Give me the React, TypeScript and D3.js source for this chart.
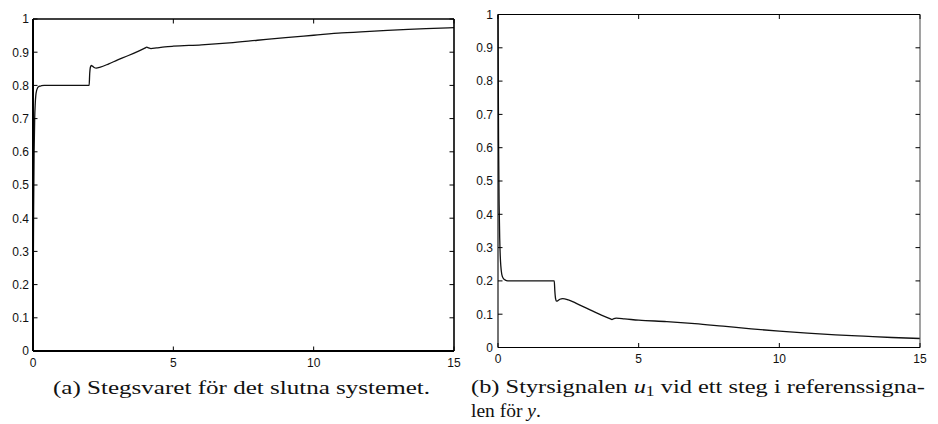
import React from "react";
import * as d3 from "d3";

const tA = [0, 0.01, 0.02, 0.04, 0.06, 0.08, 0.1, 0.13, 0.16, 0.2, 0.25, 0.3, 0.4, 0.6, 1.0, 1.5, 1.99, 2.0, 2.02, 2.05, 2.08, 2.12, 2.18, 2.25, 2.4, 2.7, 3.0, 3.4, 3.8, 4.0, 4.05, 4.12, 4.2, 4.4, 4.7, 5, 6, 7, 8, 9, 10, 11, 12, 13, 14, 15];
const yA = [0, 0.22, 0.4, 0.6, 0.7, 0.745, 0.77, 0.785, 0.792, 0.796, 0.798, 0.799, 0.8, 0.8, 0.8, 0.8, 0.8, 0.8, 0.835, 0.856, 0.86, 0.858, 0.854, 0.852, 0.855, 0.865, 0.876, 0.89, 0.905, 0.913, 0.915, 0.913, 0.911, 0.913, 0.916, 0.918, 0.922, 0.928, 0.936, 0.944, 0.951, 0.958, 0.963, 0.967, 0.971, 0.974];

const tB = [0, 0.01, 0.02, 0.04, 0.06, 0.08, 0.1, 0.13, 0.16, 0.2, 0.25, 0.3, 0.4, 0.6, 1.0, 1.5, 1.99, 2.0, 2.02, 2.05, 2.08, 2.12, 2.2, 2.3, 2.5, 2.8, 3.2, 3.6, 4.0, 4.05, 4.12, 4.2, 4.5, 5, 6, 7, 8, 9, 10, 11, 12, 13, 14, 15];
const uB = [1.0, 0.8, 0.62, 0.43, 0.33, 0.275, 0.245, 0.222, 0.212, 0.206, 0.203, 0.201, 0.2, 0.2, 0.2, 0.2, 0.2, 0.2, 0.17, 0.145, 0.139, 0.14, 0.145, 0.147, 0.143, 0.132, 0.116, 0.1, 0.086, 0.084, 0.087, 0.088, 0.086, 0.082, 0.078, 0.072, 0.064, 0.056, 0.049, 0.043, 0.038, 0.034, 0.03, 0.027];

const xTicks = [0, 5, 10, 15];
const yTicks = [0, 0.1, 0.2, 0.3, 0.4, 0.5, 0.6, 0.7, 0.8, 0.9, 1];

const sans = "Liberation Sans, Arial, Helvetica, sans-serif";
const serif = "Liberation Serif, Times New Roman, serif";

type PanelProps = {
  x0: number; x1: number; y0: number; y1: number;
  ts: number[]; vs: number[]; thick: boolean; labelRight: number;
};

function Panel({ x0, x1, y0, y1, ts, vs, thick, labelRight }: PanelProps) {
  const x = d3.scaleLinear().domain([0, 15]).range([x0, x1]);
  const y = d3.scaleLinear().domain([0, 1]).range([y1, y0]);
  const line = d3.line<number>().x((_, i) => x(ts[i])).y((d) => y(d)).curve(d3.curveMonotoneX);
  const tl = 4.5;
  const fmt = (v: number) => (v === 0 ? "0" : v === 1 ? "1" : d3.format(".1f")(v));
  return (
    <g>
      <path d={line(vs) || ""} fill="none" stroke="#111" strokeWidth={1.3} />
      <line x1={x0} x2={x1} y1={y0} y2={y0} stroke="#000" strokeWidth={thick ? 1.6 : 1.1} />
      <line x1={x1} x2={x1} y1={y0} y2={y1} stroke={thick ? "#000" : "#555"} strokeWidth={thick ? 1.6 : 1.1} />
      <line x1={x0} x2={x1} y1={y1} y2={y1} stroke="#000" strokeWidth={thick ? 2 : 1.1} />
      <line x1={x0} x2={x0} y1={y0} y2={y1} stroke="#000" strokeWidth={thick ? 2 : 1.1} />
      {xTicks.map((t) => (
        <g key={"x" + t}>
          <line x1={x(t)} x2={x(t)} y1={y1} y2={y1 - tl} stroke="#000" strokeWidth={1} />
          <line x1={x(t)} x2={x(t)} y1={y0} y2={y0 + tl} stroke="#000" strokeWidth={1} />
          <text x={x(t)} y={y1 + 15.5} textAnchor="middle" fontFamily={sans} fontSize={12} fill="#111">{t}</text>
        </g>
      ))}
      {yTicks.map((t) => (
        <g key={"y" + t}>
          <line x1={x0} x2={x0 + tl} y1={y(t)} y2={y(t)} stroke="#000" strokeWidth={1} />
          <line x1={x1} x2={x1 - tl} y1={y(t)} y2={y(t)} stroke="#000" strokeWidth={1} />
          <text x={labelRight} y={y(t) + 4.3} textAnchor="end" fontFamily={sans} fontSize={12} fill="#111">{fmt(t)}</text>
        </g>
      ))}
    </g>
  );
}

export default function App() {
  return (
    <svg width={938} height={424} style={{ position: "absolute", left: 0, top: 0, background: "#fff" }}>
      <rect width={938} height={424} fill="#fff" />
      <Panel x0={33} x1={454} y0={19} y1={351} ts={tA} vs={yA} thick={true} labelRight={29} />
      <Panel x0={498} x1={920} y0={14.5} y1={347.5} ts={tB} vs={uB} thick={false} labelRight={493} />
      <text x={53} y={394} fontFamily={serif} fontSize={19.5} fill="#111" textLength={377} lengthAdjust="spacingAndGlyphs">
        (a) Stegsvaret för det slutna systemet.
      </text>
      <text x={471} y={393} fontFamily={serif} fontSize={19.5} fill="#111" textLength={454} lengthAdjust="spacingAndGlyphs">
        (b) Styrsignalen <tspan fontStyle="italic">u</tspan><tspan fontSize={14} dy={3}>1</tspan><tspan dy={-3}> vid ett steg i referenssigna-</tspan>
      </text>
      <text x={471} y={416.5} fontFamily={serif} fontSize={19.5} fill="#111">
        len för <tspan fontStyle="italic">y</tspan>.
      </text>
    </svg>
  );
}
